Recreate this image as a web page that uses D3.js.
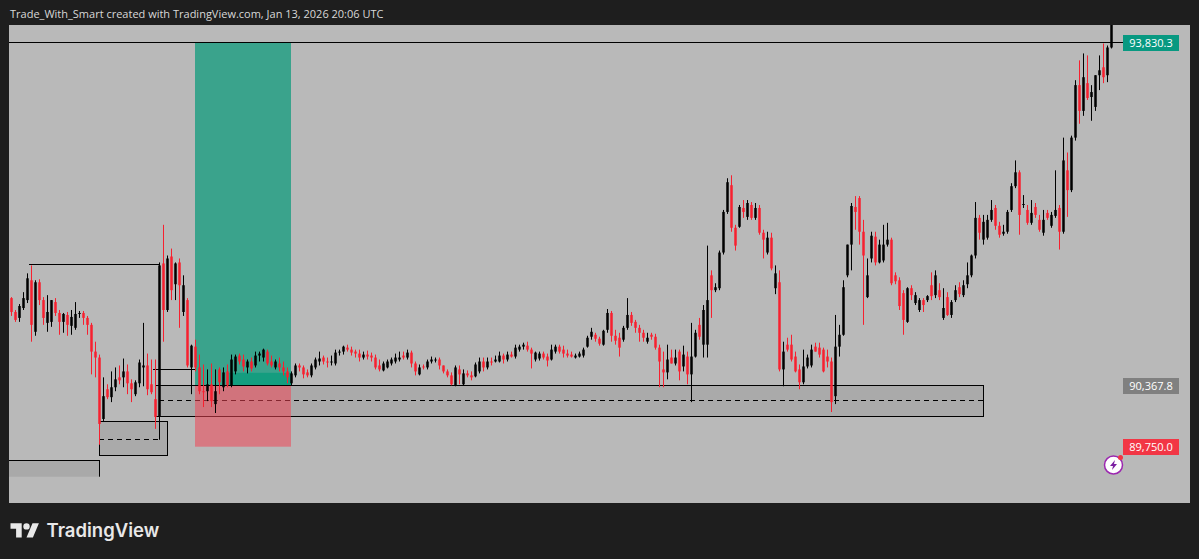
<!DOCTYPE html>
<html><head><meta charset="utf-8">
<script src="https://cdn.jsdelivr.net/npm/d3@7/dist/d3.min.js"></script>
<style>html,body{margin:0;padding:0;background:#1e1e1e;overflow:hidden}svg{display:block}</style>
</head><body><svg id="c" width="1199" height="559"></svg>
<script>
// Candles: [open, high, low, close], each block covers 25 bars
const blockA=[[91250,91260,91070,91110],[91110,91130,91010,91030],[91050,91190,91010,91170],[91150,91310,91130,91250],[91230,91500,91200,91450],[91430,91580,90810,90980],[90910,91430,90870,91410],[91410,91440,91180,91230],[91230,91260,90980,91050],[91000,91280,90910,91110],[91010,91230,90960,91230],[91210,91250,91070,91100],[91100,91130,90880,91010],[91010,91100,90900,91090],[91080,91110,90870,90980],[90970,91130,90880,91060],[90950,91210,90930,91090],[91090,91120,91050,91100],[91100,91120,90980,91050],[91050,91070,90880,90980],[90980,91000,90480,90710],[90710,90810,90450,90650],[90650,90680,89770,89980],[90030,90450,90010,90260],[90330,90380,90230,90250]];
const blockB=[[90250,90510,90200,90350],[90350,90550,90310,90430],[90450,90570,90380,90420],[90450,90640,90350,90510],[90510,90580,90280,90390],[90390,90430,90200,90330],[90280,90420,90260,90400],[90390,90630,90350,90600],[90550,91000,90360,90570],[90570,90690,90270,90330],[90380,90630,90280,90300],[90230,90630,89930,90050],[90060,91610,89820,91580],[91600,91990,90810,91130],[91130,91680,91110,91650],[91670,91750,91230,91330],[91390,91610,91230,91600],[91610,91650,90950,91380],[91110,91480,91070,91380],[91230,91250,90550,90570],[90550,90780,90280,90770],[90760,90830,90510,90550],[90550,90680,90280,90310],[90310,90580,90150,90300],[90310,90530,90210,90380]];
const blockC=[[90380,90590,90150,90210],[90180,90530,90090,90310],[90530,90550,90280,90400],[90350,90550,90310,90500],[90510,90580,90350,90370],[90370,90680,90350,90630],[90510,90680,90480,90660],[90670,90690,90580,90610],[90630,90680,90510,90560],[90550,90630,90490,90610],[90610,90650,90510,90540],[90570,90710,90550,90670],[90670,90710,90610,90690],[90650,90740,90610,90730],[90710,90730,90570,90590],[90610,90670,90550,90570],[90550,90630,90530,90610],[90590,90650,90510,90550],[90550,90610,90470,90510],[90510,90550,90390,90450],[90390,90510,90370,90490],[90470,90590,90450,90570],[90570,90590,90510,90550],[90550,90570,90440,90480],[90500,90530,90450,90470]];
const blockD=[[90470,90590,90450,90570],[90550,90650,90530,90630],[90610,90710,90570,90640],[90650,90670,90580,90610],[90610,90650,90550,90600],[90600,90670,90570,90610],[90590,90730,90570,90700],[90700,90730,90670,90710],[90710,90770,90680,90760],[90750,90780,90710,90730],[90730,90760,90670,90700],[90710,90730,90650,90690],[90690,90730,90610,90650],[90650,90710,90630,90680],[90680,90720,90630,90660],[90670,90700,90610,90650],[90650,90680,90530,90550],[90570,90630,90510,90530],[90520,90610,90510,90590],[90550,90630,90540,90610],[90590,90650,90570,90630],[90610,90690,90590,90650],[90630,90710,90610,90650],[90670,90710,90630,90650],[90650,90730,90630,90700]];
const blockE=[[90700,90720,90550,90590],[90590,90610,90470,90510],[90480,90580,90470,90550],[90560,90580,90530,90550],[90550,90630,90530,90610],[90610,90660,90590,90630],[90620,90650,90600,90630],[90630,90650,90530,90570],[90570,90570,90490,90510],[90510,90530,90450,90470],[90470,90500,90370,90380],[90370,90570,90360,90550],[90530,90570,90380,90480],[90380,90530,90370,90490],[90490,90520,90450,90470],[90470,90510,90420,90450],[90460,90600,90450,90580],[90510,90650,90490,90610],[90610,90650,90510,90550],[90550,90650,90530,90610],[90610,90650,90570,90600],[90610,90670,90600,90630],[90610,90710,90600,90670],[90670,90690,90590,90630],[90630,90710,90610,90680]];
const blockF=[[90680,90710,90650,90660],[90660,90780,90640,90750],[90730,90780,90710,90760],[90760,90800,90730,90780],[90770,90810,90710,90730],[90730,90750,90540,90690],[90630,90710,90610,90700],[90640,90710,90620,90690],[90690,90710,90630,90650],[90660,90690,90560,90620],[90630,90780,90620,90730],[90710,90780,90690,90760],[90760,90780,90690,90710],[90730,90770,90650,90690],[90690,90730,90650,90670],[90680,90710,90650,90660],[90650,90690,90640,90670],[90660,90710,90650,90690],[90670,90750,90650,90730],[90760,90870,90750,90850],[90860,90950,90830,90910],[90880,90900,90810,90840],[90840,90860,90770,90790],[90780,90930,90770,90920],[90930,91140,90900,91100]];
const blockG=[[91100,91120,90810,90870],[90870,90930,90780,90820],[90850,90900,90660,90750],[90830,90970,90810,90950],[90950,91250,90930,91080],[91080,91110,90970,91000],[91010,91030,90900,90950],[90950,90980,90810,90900],[90900,90930,90810,90850],[90810,90900,90790,90850],[90880,90900,90830,90860],[90860,90890,90730,90750],[90750,90780,90350,90610],[90530,90710,90350,90500],[90500,90780,90430,90630],[90650,90730,90590,90590],[90590,90730,90570,90650],[90710,90730,90420,90510],[90560,90770,90510,90680],[90660,90710,90380,90480],[90480,91000,90200,90660],[90660,90930,90650,90900],[90980,91050,90830,90860],[90780,91180,90650,91130],[90780,91780,90650,91230]];
const blockH=[[91480,91530,91050,91330],[91330,91400,91310,91360],[91350,91730,91330,91710],[91710,92140,91690,92120],[92120,92460,92100,92420],[92390,92490,91920,91960],[91960,91990,91730,91780],[91970,92190,91960,92170],[92160,92240,92060,92120],[92070,92240,92040,92210],[92190,92220,92040,92060],[92060,92210,92040,92160],[92160,92190,91890,91910],[91910,91940,91650,91840],[91710,91920,91690,91860],[91860,91910,91530,91550],[91350,91580,91290,91500],[91410,91530,90510,90530],[90530,90810,90360,90710],[90780,90850,90710,90730],[90780,90880,90610,90630],[90660,90710,90500,90510],[90530,90580,90330,90400],[90400,90730,90380,90560],[90560,90680,90540,90650]];
const blockI=[[90570,90780,90550,90730],[90760,90800,90710,90710],[90750,90800,90650,90680],[90730,90750,90500,90510],[90660,90730,90550,90610],[90610,90650,90100,90200],[90260,91080,90180,90760],[90760,90980,90660,90880],[90880,91430,90870,91360],[91480,91790,91460,91790],[91790,92210,91530,92180],[92170,92280,91940,92120],[92260,92280,91790,91920],[91920,92040,90980,91680],[91260,91650,91250,91480],[91650,91920,91610,91880],[91870,91920,91580,91610],[91610,91840,91600,91790],[91630,91990,91610,91790],[91790,92010,91770,91840],[91840,91860,91380,91400],[91480,91510,91390,91420],[91430,91460,91130,91170],[91300,91330,90880,91030],[91010,91360,91000,91350]];
const blockJ=[[91350,91380,91230,91280],[91200,91310,91180,91280],[91130,91250,91110,91230],[91230,91250,91110,91180],[91230,91280,91210,91270],[91380,91510,91230,91270],[91280,91530,91250,91480],[91330,91400,91230,91260],[91050,91350,91030,91150],[91260,91310,91070,91080],[91080,91230,91050,91210],[91230,91380,91210,91330],[91360,91410,91260,91290],[91280,91430,91260,91380],[91390,91610,91350,91480],[91480,91690,91460,91680],[91680,92220,91650,92060],[92060,92090,91840,91910],[91840,92090,91790,92020],[91860,92090,91840,92040],[92040,92240,92020,92140],[92160,92190,91940,91980],[91980,92020,91860,91890],[91900,91990,91880,91920],[91920,92140,91900,92120]];
const blockK=[[92140,92410,92120,92380],[92380,92640,92360,92520],[92520,92540,91890,92090],[92190,92290,92160,92200],[92140,92190,91990,92010],[92010,92240,91990,92110],[92170,92210,92060,92090],[92040,92090,91920,91940],[91910,92140,91880,92040],[92110,92140,92040,92060],[91980,92120,91960,92090],[92080,92540,92060,92140],[92160,92190,91740,91920],[91920,92870,91900,92640],[92540,92720,92070,92340],[92340,92890,92320,92870],[92870,93450,92840,93400],[93400,93650,93010,93140],[93140,93720,93090,93480],[93420,93700,93250,93270],[93280,93400,93040,93330],[93180,93500,93140,93500],[93500,93700,93350,93550],[93580,93820,93420,93480],[93500,93800,93430,93780],[93780,94020,93770,94010]];
const candles=[...blockA,...blockB,...blockC,...blockD,...blockE,...blockF,...blockG,...blockH,...blockI,...blockJ,...blockK];

// Position tool, zones, and levels: bar index from/to and price from/to
const target=93830.3, entry=90367.8, stop=89750.0;
const zoneBars=[36,243], zonePrices=[90367.8,90052], zoneMid=90214;
const lowerBoxBars=[22,39], lowerBoxPrices=[90002,89659], lowerBoxMid=89826;
const oldBoxBars=[-0.5,22.25], oldBoxPrices=[89609,89447];
const positionBars=[46,70], overlapBars=[54,70], overlapTop=90496;
const swingHigh={bars:[4.5,37.25],price:91586}, swingLow={bars:[35.5,46],price:90527};
const priceLabels=[[target,"93,830.3","#089981"],[entry,"90,367.8","#808080"],[stop,"89,750.0","#f23645"]];
const titleText="Trade_With_Smart created with TradingView.com, Jan 13, 2026 20:06 UTC";
const brandText="TradingView";

const svg=d3.select("#c");
const x=d3.scaleLinear().domain([0,candles.length-1]).range([11,1111]);
const y=d3.scaleLinear().domain([target,entry]).range([42.5,385.5]);
const pane={x0:9,x1:1190,y0:25,y1:503};
const bg="#1e1e1e",up="#000000",down="#f7202f";
const snap=v=>Math.floor(v)+.5;

svg.append("rect").attr("width",1199).attr("height",559).attr("fill",bg);
svg.append("rect").attr("x",pane.x0).attr("y",pane.y0).attr("width",pane.x1-pane.x0).attr("height",pane.y1-pane.y0).attr("fill","#b9b9b9");
svg.append("defs").append("clipPath").attr("id","p").append("rect").attr("x",pane.x0).attr("y",pane.y0).attr("width",pane.x1-pane.x0).attr("height",pane.y1-pane.y0);
const g=svg.append("g").attr("clip-path","url(#p)");
const box=(bars,prices,fill,stroked)=>{const a=stroked?snap:(v=>v);const r=g.append("rect").attr("x",a(x(bars[0]))).attr("width",a(x(bars[1]))-a(x(bars[0]))).attr("y",a(y(prices[0]))).attr("height",a(y(prices[1]))-a(y(prices[0]))).attr("fill",fill);if(stroked)r.attr("stroke","#000").attr("stroke-width",1);return r;};
const hline=(bars,price,dash)=>g.append("line").attr("x1",x(bars[0])).attr("x2",x(bars[1])).attr("y1",snap(y(price))).attr("y2",snap(y(price))).attr("stroke","#000").attr("stroke-width",1).attr("stroke-dasharray",dash||null);

// old box with top and right border only
box(oldBoxBars,oldBoxPrices,"#a9a9a9");
hline(oldBoxBars,oldBoxPrices[0]);
g.append("line").attr("x1",snap(x(oldBoxBars[1]))).attr("x2",snap(x(oldBoxBars[1]))).attr("y1",y(oldBoxPrices[0])).attr("y2",y(oldBoxPrices[1])).attr("stroke","#000");

box(zoneBars,zonePrices,"#aaaaaa",true);
hline([zoneBars[0]+1,zoneBars[1]],zoneMid,"5 4");
box(lowerBoxBars,lowerBoxPrices,"#aaaaaa",true);
hline([lowerBoxBars[0],lowerBoxBars[1]-2],lowerBoxMid,"5 4");

box(positionBars,[target,entry],"#3aa38c");
box(positionBars,[entry,stop],"rgba(240,70,85,0.55)");
box(overlapBars,[overlapTop,entry],"#149d7f");
hline(positionBars,entry);
hline(swingHigh.bars,swingHigh.price);
hline(swingLow.bars,swingLow.price);
hline([-0.5,278],target);

const cg=g.append("g").style("filter","blur(0.35px)");
const c=cg.selectAll("g.k").data(candles).join("g").attr("class","k");
const col=d=>d[3]>=d[0]?up:down;
c.append("line").attr("x1",(d,i)=>Math.round(x(i))+.5).attr("x2",(d,i)=>Math.round(x(i))+.5)
 .attr("y1",d=>y(d[1])).attr("y2",d=>y(d[2])).attr("stroke",col).attr("stroke-width",1);
c.append("rect").attr("x",(d,i)=>Math.round(x(i))-.75).attr("width",2.5)
 .attr("y",d=>y(Math.max(d[0],d[3]))).attr("height",d=>Math.max(1,Math.abs(y(d[0])-y(d[3])))).attr("fill",col);

// price labels
const lab=svg.selectAll("g.l").data(priceLabels).join("g").attr("class","l").attr("transform",d=>`translate(1123,${Math.round(y(d[0]))-8})`);
lab.append("rect").attr("width",56).attr("height",16).attr("fill",d=>d[2]);
lab.append("text").attr("x",28).attr("y",12).attr("text-anchor","middle").attr("fill","#fff").attr("font-family","'Open Sans',sans-serif").attr("font-size",11).text(d=>d[1]);

// title + brand
svg.append("text").attr("x",10).attr("y",18).attr("fill","#d8d8d8").attr("font-family","'Open Sans',sans-serif").attr("font-size",11).text(titleText);
svg.append("path").attr("transform","translate(10.5,520) scale(0.8)").attr("fill","#e8e8e8").attr("d","M14 22H7V11H0V4h14v18zM28 22h-8l7.5-18h8L28 22z");
svg.append("circle").attr("transform","translate(10.5,520) scale(0.8)").attr("cx",20).attr("cy",8).attr("r",4).attr("fill","#e8e8e8");
svg.append("text").attr("x",46.5).attr("y",537).attr("fill","#e8e8e8").attr("font-family","Inter,sans-serif").attr("font-weight",600).attr("font-size",18.5).text(brandText);

// lightning badge
const b=svg.append("g").attr("transform","translate(1113.5,465)");
b.append("circle").attr("r",9).attr("fill","#fff").attr("stroke","#9c27b0").attr("stroke-width",1.5);
b.append("path").attr("d","M1.5-5L-3.5 1H-.5L-1.5 5L3.5-1H.5z").attr("fill","#7b1fa2");
b.append("circle").attr("cx",7).attr("cy",-7.5).attr("r",2.5).attr("fill","#f23645");
</script></body></html>
